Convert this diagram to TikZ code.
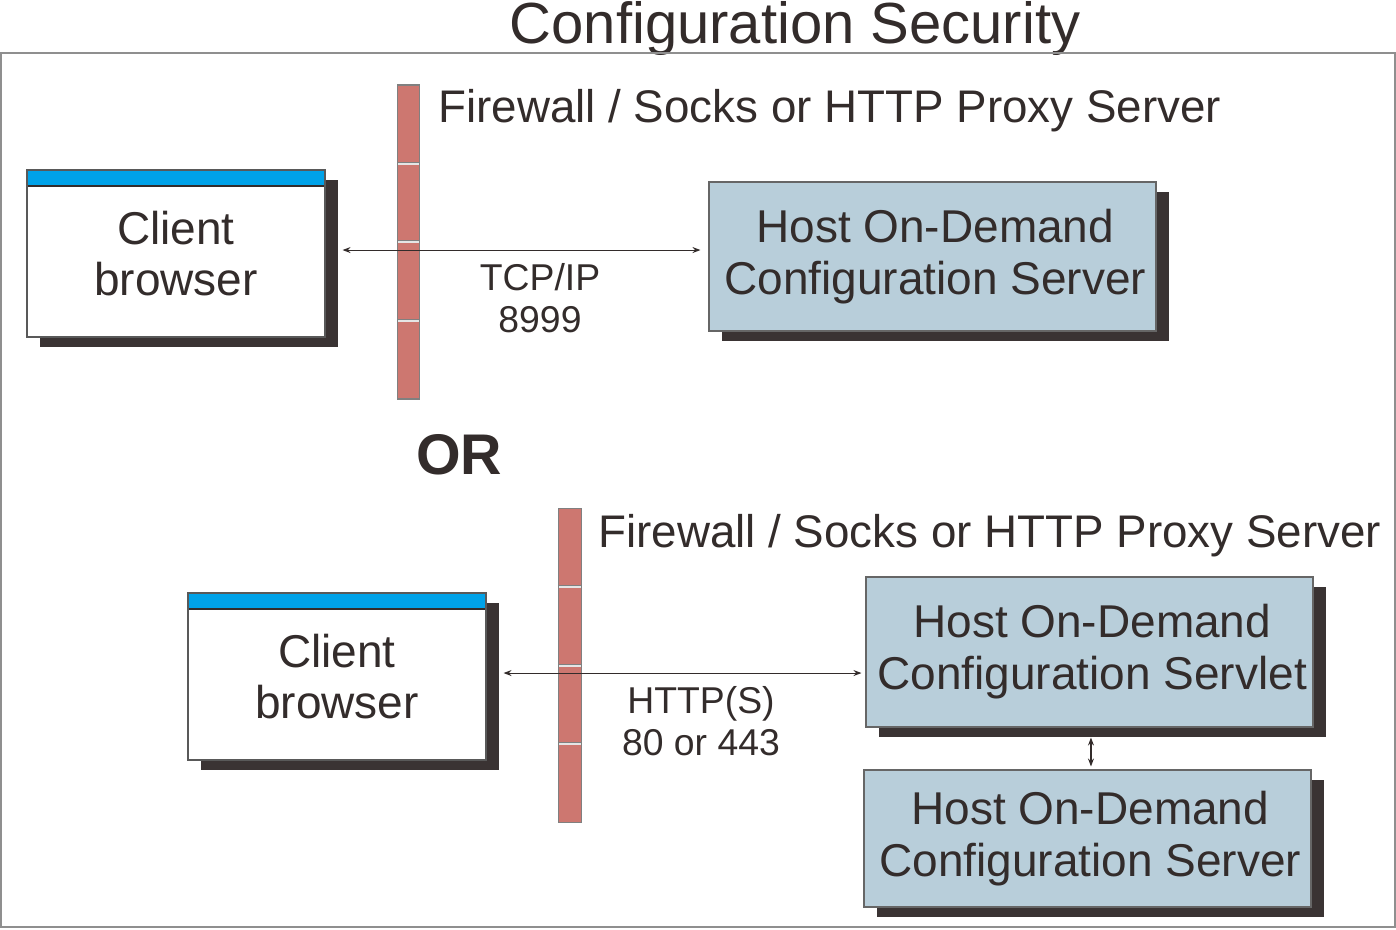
\documentclass[tikz,border=0pt]{standalone}
\usepackage{fontspec}
\setmainfont{Liberation Sans}
\usetikzlibrary{shadows,arrows.meta,calc}
\definecolor{ink}{HTML}{332C2B}
\definecolor{hostfill}{HTML}{B8CEDA}
\definecolor{fwfill}{HTML}{CD7770}
\definecolor{barblue}{HTML}{00A2E8}
\definecolor{shadowc}{HTML}{3A3333}
\definecolor{framec}{HTML}{8F8F8F}
\tikzset{
  px/.style={x=0.75pt,y=-0.75pt},
  boxshadow/.style={general shadow={fill=shadowc, shadow xshift=9.75pt, shadow yshift=-7.5pt}},
  clientbox/.style={boxshadow, draw=gray!70!black, line width=0.8pt, fill=white, text=ink,
    minimum width=223.5pt, minimum height=125.25pt, align=center, inner sep=0pt,
    font=\fontsize{34.5pt}{38.5pt}\selectfont,
    path picture={\fill[barblue] (path picture bounding box.north west) rectangle ([yshift=-12pt]path picture bounding box.north east);
      \draw[ink,line width=0.8pt] ([yshift=-12pt]path picture bounding box.north west) -- ([yshift=-12pt]path picture bounding box.north east);}},
  hostbox/.style={boxshadow, draw=gray!80!black, line width=0.8pt, fill=hostfill, text=ink,
    minimum width=335.25pt, align=center, inner sep=0pt,
    font=\fontsize{34.5pt}{39pt}\selectfont},
  firewall/.style={draw=gray, line width=0.8pt, fill=fwfill, minimum width=17pt, minimum height=235.5pt, inner sep=0pt,
    path picture={
      \foreach \f in {0.25,0.5,0.75}{
        \draw[white!80!gray,line width=1.6pt] ($(path picture bounding box.north west)!\f!(path picture bounding box.south west)$) -- ($(path picture bounding box.north east)!\f!(path picture bounding box.south east)$);
        \draw[gray,line width=0.5pt] ([yshift=0.9pt]$(path picture bounding box.north west)!\f!(path picture bounding box.south west)$) -- ([yshift=0.9pt]$(path picture bounding box.north east)!\f!(path picture bounding box.south east)$);
      }}},
  lbl/.style={text=ink, font=\fontsize{34.3pt}{39pt}\selectfont, inner sep=0pt},
  proto/.style={text=ink, font=\fontsize{28pt}{32pt}\selectfont, align=center, inner sep=0pt},
  conn/.style={ink, line width=0.8pt, {Stealth[length=6pt,width=4.5pt]}-{Stealth[length=6pt,width=4.5pt]}}
}
\begin{document}
\begin{tikzpicture}[px]
\useasboundingbox (0,0) rectangle (1396,929);
\node[text=ink, font=\fontsize{43.5pt}{48pt}\selectfont, inner sep=0pt] (title) at (795,28) {Configuration Security};
\draw[framec, line width=0.9pt] (1,53) rectangle (1395,927);

% top section
\node[clientbox] (c1) at (176,253.5) {Client\\browser};
\node[firewall] (fw1) at (408.5,242) {};
\node[lbl, anchor=west] (fl1) at (438,111) {Firewall / Socks or HTTP Proxy Server};
\node[hostbox, minimum height=111.75pt] (h1) at (932.5,256.5) {\hspace*{4pt}Host On-Demand\\\hspace*{4pt}Configuration Server};
\node[proto] (p1) at (540,298) {TCP/IP\\8999};
\draw[conn, shorten <=12.75pt, shorten >=6pt] ([yshift=2.6pt]c1.east) -- ([yshift=2.6pt]c1.east -| h1.west);

\node[text=ink, font=\fontsize{43pt}{48pt}\selectfont\bfseries, inner sep=0pt] (or) at (459,455) {OR};

% bottom section
\node[clientbox] (c2) at (337,676.5) {Client\\browser};
\node[firewall] (fw2) at (570,665.5) {};
\node[lbl, anchor=west] (fl2) at (598,536) {Firewall / Socks or HTTP Proxy Server};
\node[hostbox, minimum height=112.5pt] (s1) at (1089.5,652) {\hspace*{4pt}Host On-Demand\\\hspace*{4pt}Configuration Servlet};
\node[hostbox, minimum height=102.75pt] (s2) at (1087.5,838.5) {\hspace*{4pt}Host On-Demand\\\hspace*{4pt}Configuration Server};
\node[proto] (p2) at (701,721) {HTTP(S)\\80 or 443};
\draw[conn, shorten <=12.75pt, shorten >=3pt] ([yshift=2.6pt]c2.east) -- ([yshift=2.6pt]c2.east -| s1.west);
\draw[conn, shorten <=7.5pt, shorten >=2.25pt] ([xshift=1.1pt]s1.south) -- ([xshift=1.1pt]s1.south |- s2.north);
\end{tikzpicture}
\end{document}
